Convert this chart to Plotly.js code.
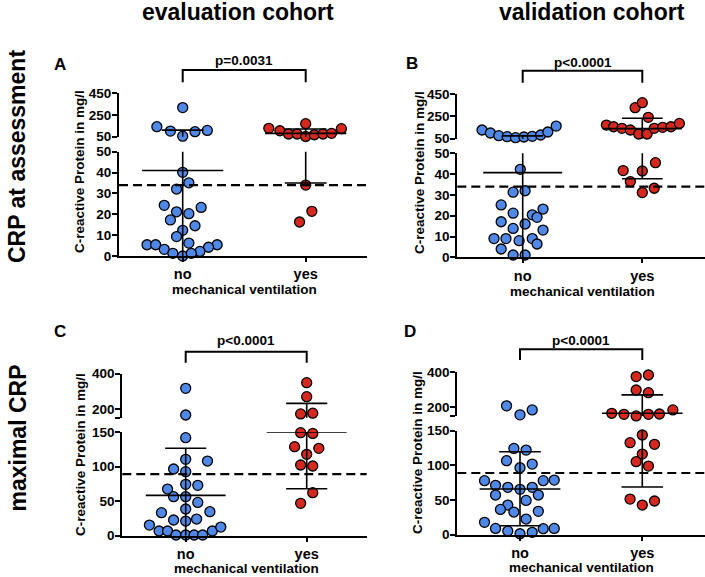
<!DOCTYPE html>
<html><head><meta charset="utf-8">
<script src="https://cdn.plot.ly/plotly-3.0.1.min.js"></script>
<style>html,body{margin:0;padding:0;background:#fff}</style>
</head><body><div id="chart" style="width:705px;height:577px"></div>
<script>
// ---------- DATA ----------
const categories = ['no', 'yes'];

// Panel A: evaluation cohort, CRP at assessment
const A_noValues  = [40.1,35.1,32.1,24.3,23.3,21.2,20.3,17.3,14.5,12.3,9.3,6.2,5.4,5.4,5.4,3.2,4.2,1.3,2.2,0,1.3, 318,142,102,55,96,108];
const A_noOffsets = [0,0.05,-0.05,-0.15,0.15,-0.05,0.05,-0.10,0.10,0,-0.05,0.05,-0.29,-0.22,0.28,-0.15,0.21,-0.08,0.14,0,0.07, 0,-0.21,-0.10,0,0.10,0.20];
const A_yesValues  = [170,127,105,75,75,52,68,75,81,124, 34,21.4,16.3];
const A_yesOffsets = [0,-0.30,-0.21,-0.14,-0.07,0,0.07,0.14,0.21,0.29, 0,0.05,-0.05];
const A_center = [41, 81];
const A_low    = [null, 35];
const A_high   = [111, 121];

// Panel B: validation cohort, CRP at assessment
const B_noValues  = [128,101,77,68,59,65,71,83,110,163, 42.3,31.3,32,25.2,23.2,21.2,20.4,19.2,17.1,16,13.9,13.1,9,9,8,9,6.4,4,1.1,1.1];
const B_noOffsets = [-0.34,-0.27,-0.20,-0.13,-0.06,0.01,0.08,0.15,0.21,0.28, -0.02,-0.08,0.02,-0.18,0.17,-0.08,0.08,0.12,-0.18,0.02,-0.08,0.17,-0.24,-0.14,-0.03,0.08,0.12,-0.18,-0.08,0.02];
const B_yesValues  = [172,157,143,128,92,92,143,152,157,187,241,328,372, 41.7,41.5,45.5,36.4,31.1,33.2];
const B_yesOffsets = [-0.30,-0.24,-0.17,-0.10,-0.03,0.04,0.10,0.17,0.24,0.31,0.05,-0.06,0, -0.16,0,0.11,-0.10,0,0.10];
const B_center = [40.7, 140];
const B_low    = [null, 37.8];
const B_high   = [75, 233];

// Panel C: evaluation cohort, maximal CRP
const C_noValues  = [317,166, 141.8,110.5,108,96.5,92.6,67.5,74.3,72.8,56.4,56.4,48.2,38.6,33.3,34.7,22.7,21.2,24.1,15.4,6.8,6.8,6.8,12.5,1,1,1,1];
const C_noOffsets = [0,0, 0,0,0.18,-0.10,0,-0.15,0,0.10,-0.10,0,0.10,0,-0.20,0.20,-0.10,0,0.09,-0.30,-0.22,-0.15,0.22,0.29,-0.08,0,0.07,0.14];
const C_yesValues  = [349,270,172,176, 149,148,128.8,126.4,117.7,102.3,100.8,62.2,46.8];
const C_yesOffsets = [0,0,-0.05,0.05, -0.05,0.05,-0.10,0.10,0,-0.05,0.05,0.05,-0.05];
const C_center = [58.4, 150];
const C_low    = [null, 68];
const C_high   = [126.4, 232];

// Panel D: validation cohort, maximal CRP
const D_noValues  = [208,157,185, 124.5,122,106.7,96.6,101.9,77.9,71.2,68.3,65.4,68.3,77.9,78.8,57.2,57.2,42.8,49.5,36.5,32.7,33.7,22.6,17.8,9.1,8.7,9.1,5.3,1.4,3.4];
const D_noOffsets = [-0.11,0,0.10, -0.05,0.05,-0.11,0,0.10,-0.29,-0.20,-0.10,0,0.10,0.19,0.28,-0.20,0.15,-0.10,0.05,-0.16,-0.05,0.15,0.05,-0.29,-0.20,0.19,0.28,-0.10,0,0.10];
const D_yesValues  = [374,383,298,283,166,160,151,160,162,185, 143.8,132.7,130.3,116.3,105.3,99,51.4,42.8,48.6];
const D_yesOffsets = [-0.05,0.05,-0.05,0.05,-0.25,-0.15,-0.05,0.05,0.14,0.25, 0,-0.10,0.10,0,-0.05,0.05,-0.10,0,0.10];
const D_center = [65.9, 166];
const D_low    = [13, 68.8];
const D_high   = [119.7, 270.6];

const cutoffAssessment = 34;
const cutoffMaximal = 89;
const pValues = ['p=0.0031', 'p<0.0001', 'p<0.0001', 'p<0.0001'];

// ---------- LAYOUT ----------
const W = 705, H = 577;
const fx = p => p / W;
const fy = p => 1 - p / H;
const BLUE = '#4f88e6', RED = '#d5281f';
const FONT = 'Liberation Sans, Arial, sans-serif';

const panels = [
  {letter:'A', xa:'x', ylo:'y', yhi:'y2', xpx:[119,366.7], noPx:182.7, yesPx:305.7,
   loPx:[256,151.7], loRange:[0,50], loTicks:[0,10,20,30,40,50], loText:['0','10','20','30','40','50'],
   hiPx:[136.7,93.3], hiRange:[50,450], hiTicks:[50,250,450], hiText:['50','250','450'], brk:50,
   thr:cutoffAssessment, no:[A_noValues,A_noOffsets], yes:[A_yesValues,A_yesOffsets],
   center:A_center, low:A_low, high:A_high, p:pValues[0],
   brY:70, brDrop:82.3, pY:60.7, letterPos:[60,65], yTitle:[80,172], xTitle:[244,289]},
  {letter:'B', xa:'x2', ylo:'y3', yhi:'y4', xpx:[457.3,705], noPx:522.7, yesPx:642.3,
   loPx:[257.3,153.3], loRange:[0,50], loTicks:[0,10,20,30,40,50], loText:['0','10','20','30','40','50'],
   hiPx:[138.7,94], hiRange:[50,450], hiTicks:[50,250,450], hiText:['50','250','450'], brk:50,
   thr:cutoffAssessment, no:[B_noValues,B_noOffsets], yes:[B_yesValues,B_yesOffsets],
   center:B_center, low:B_low, high:B_high, p:pValues[1],
   brY:70.7, brDrop:82.7, pY:62.7, letterPos:[412,64], yTitle:[419,173], xTitle:[582.5,291]},
  {letter:'C', xa:'x3', ylo:'y5', yhi:'y6', xpx:[122.3,366.7], noPx:185.7, yesPx:306.7,
   loPx:[535.7,432], loRange:[0,150], loTicks:[0,50,100,150], loText:['0','50','100','150'],
   hiPx:[417.8,373.7], hiRange:[150,400], hiTicks:[150,200,400], hiText:['','200','400'], brk:150,
   thr:cutoffMaximal, no:[C_noValues,C_noOffsets], yes:[C_yesValues,C_yesOffsets],
   center:C_center, low:C_low, high:C_high, p:pValues[2],
   brY:351.7, brDrop:362.7, pY:340, letterPos:[60,331.7], yTitle:[80,455], xTitle:[246,568.5]},
  {letter:'D', xa:'x4', ylo:'y7', yhi:'y8', xpx:[457.3,705], noPx:520, yesPx:642.3,
   loPx:[534.7,430.7], loRange:[0,150], loTicks:[0,50,100,150], loText:['0','50','100','150'],
   hiPx:[416.1,372], hiRange:[150,400], hiTicks:[150,200,400], hiText:['','200','400'], brk:150,
   thr:cutoffMaximal, no:[D_noValues,D_noOffsets], yes:[D_yesValues,D_yesOffsets],
   center:D_center, low:D_low, high:D_high, p:pValues[3],
   brY:349.3, brDrop:360, pY:340.7, letterPos:[410,331.7], yTitle:[417,453], xTitle:[581,567.5]}
];

const traces = [];
const layout = {
  width: W, height: H, margin:{l:0,r:0,t:0,b:0},
  paper_bgcolor:'#fff', plot_bgcolor:'rgba(0,0,0,0)', showlegend:false,
  font:{family:FONT, color:'#000', size:14, weight:'bold'},
  shapes:[], annotations:[]
};
const axName = id => id.replace(/^x/, 'xaxis').replace(/^y/, 'yaxis');
const TICKFONT = {size:13.5, family:FONT, weight:'bold', color:'#000'};
const TITLEFONT = {size:13.5, family:FONT, weight:'bold', color:'#000'};

panels.forEach(P => {
  const sp = P.yesPx - P.noPx;
  layout[axName(P.xa)] = {
    domain:[fx(P.xpx[0]), fx(P.xpx[1])],
    range:[(P.xpx[0]-P.noPx)/sp, (P.xpx[1]-P.noPx)/sp],
    anchor:P.ylo, tickvals:[0,1], ticktext:categories,
    showline:true, linewidth:2, linecolor:'#000', ticks:'outside', ticklen:4, tickwidth:2, tickcolor:'#000',
    showgrid:false, zeroline:false, fixedrange:true, tickfont:{size:14.5, family:FONT, weight:'bold', color:'#000'}
  };
  const yBase = {anchor:P.xa, showline:true, linewidth:2, linecolor:'#000', ticks:'outside', ticklen:5,
    tickwidth:2, tickcolor:'#000', showgrid:false, zeroline:false, fixedrange:true,
    tickfont:TICKFONT, tickmode:'array', ticklabelstandoff:-2};
  layout[axName(P.ylo)] = Object.assign({}, yBase, {domain:[fy(P.loPx[0]), fy(P.loPx[1])], range:P.loRange, tickvals:P.loTicks, ticktext:P.loText});
  layout[axName(P.yhi)] = Object.assign({}, yBase, {domain:[fy(P.hiPx[0]), fy(P.hiPx[1])], range:P.hiRange, tickvals:P.hiTicks, ticktext:P.hiText});

  // points, split at the axis break
  [[P.no, 0, BLUE], [P.yes, 1, RED]].forEach(([grp, g, col]) => {
    const [vals, offs] = grp;
    [[P.ylo, v => v <= P.brk], [P.yhi, v => v > P.brk]].forEach(([ya, test]) => {
      const xs = [], ys = [];
      vals.forEach((v, i) => { if (test(v)) { xs.push(g + offs[i]); ys.push(v); } });
      traces.push({type:'scatter', mode:'markers', x:xs, y:ys, xaxis:P.xa, yaxis:ya, cliponaxis:false,
        marker:{size:10, color:col, line:{color:'#000', width:1.3}}, hoverinfo:'skip'});
    });
  });

  // centre line and whiskers: horizontals on the segment holding the value, vertical on both
  const seg = {lo:{x:[], y:[]}, hi:{x:[], y:[]}};
  const addH = (g, v, half) => {
    const s = v <= P.brk ? seg.lo : seg.hi;
    s.x.push(g-half, g+half, null); s.y.push(v, v, null);
  };
  [0,1].forEach(g => {
    const c = P.center[g], lo = P.low[g], hi = P.high[g];
    addH(g, c, 0.33);
    if (hi != null) addH(g, hi, 0.17);
    if (lo != null) addH(g, lo, 0.17);
    const v0 = lo == null ? P.loRange[0] : lo;
    ['lo','hi'].forEach(k => { seg[k].x.push(g, g, null); seg[k].y.push(v0, hi, null); });
  });
  [[P.ylo, seg.lo], [P.yhi, seg.hi]].forEach(([ya, s]) => traces.push({type:'scatter', mode:'lines',
    x:s.x, y:s.y, xaxis:P.xa, yaxis:ya, line:{color:'#000', width:1.6}, hoverinfo:'skip'}));

  // cutoff dashed line
  layout.shapes.push({type:'line', xref:P.xa+' domain', x0:0, x1:1, yref:P.ylo, y0:P.thr, y1:P.thr,
    line:{color:'#000', width:2.2, dash:'9px,5px'}});
  // significance bracket
  layout.shapes.push({type:'path', xref:P.xa, yref:'paper',
    path:`M0,${fy(P.brDrop)} L0,${fy(P.brY)} L1,${fy(P.brY)} L1,${fy(P.brDrop)}`,
    line:{color:'#000', width:2}});
  layout.annotations.push({xref:P.xa, yref:'paper', x:0.5, y:fy(P.pY), text:P.p, showarrow:false,
    xanchor:'center', yanchor:'middle', font:TITLEFONT});
  layout.annotations.push({xref:'paper', yref:'paper', x:fx(P.letterPos[0]), y:fy(P.letterPos[1]), text:P.letter,
    showarrow:false, xanchor:'center', yanchor:'middle', font:{size:17, family:FONT, weight:'bold', color:'#000'}});
  layout.annotations.push({xref:'paper', yref:'paper', x:fx(P.yTitle[0]), y:fy(P.yTitle[1]), text:'C-reactive Protein in mg/l',
    textangle:-90, showarrow:false, xanchor:'center', yanchor:'middle', borderpad:0, font:TITLEFONT});
  layout.annotations.push({xref:'paper', yref:'paper', x:fx(P.xTitle[0]), y:fy(P.xTitle[1]), text:'mechanical ventilation',
    showarrow:false, xanchor:'center', yanchor:'middle', borderpad:0, font:TITLEFONT});
});

// column and row headings
[['evaluation cohort', 237.5, 12, 0], ['validation cohort', 591.7, 12, 0],
 ['CRP at assessment', 17, 157, -90], ['maximal CRP', 17, 438.5, -90]].forEach(([t, x, y, a]) => {
  layout.annotations.push({xref:'paper', yref:'paper', x:fx(x), y:fy(y), text:t, textangle:a, showarrow:false,
    xanchor:'center', yanchor:'middle', font:{size:23, family:FONT, weight:'bold', color:'#000'}});
});

Plotly.newPlot('chart', traces, layout, {displayModeBar:false, staticPlot:true});
</script></body></html>
